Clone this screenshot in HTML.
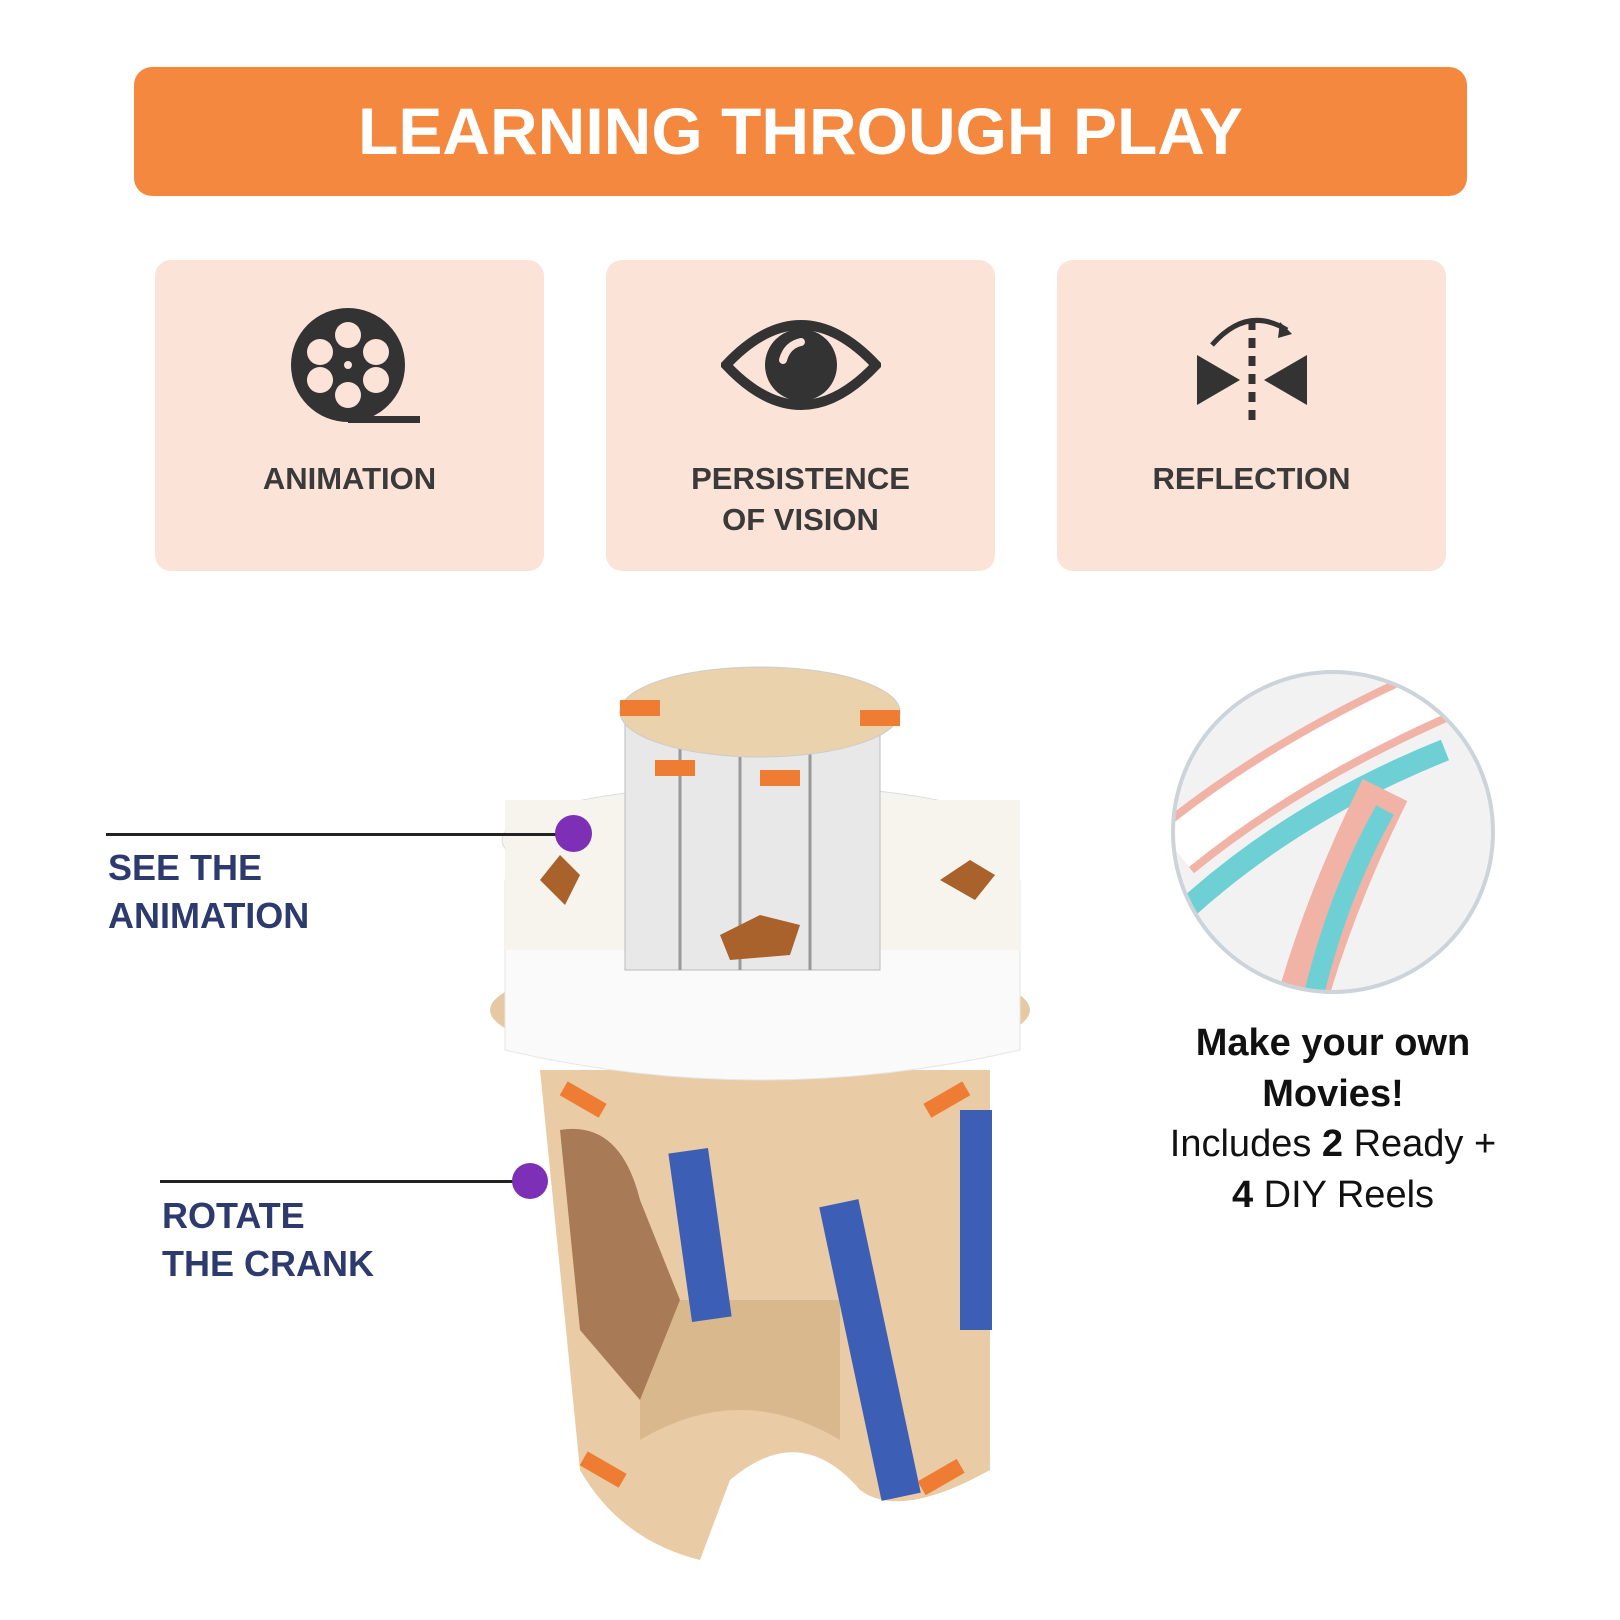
<!DOCTYPE html><html><head><style>
body{margin:0;width:1620px;height:1620px;background:#fff;position:relative;overflow:hidden;font-family:"Liberation Sans",sans-serif}
.a{position:absolute}
.card{position:absolute;top:260px;width:389px;height:311px;background:#fbe3d8;border-radius:16px}
.lbl{position:absolute;left:0;right:0;text-align:center;font-weight:bold;font-size:31px;color:#3a3a3a;line-height:41px}
.nav{color:#2d3a6e;font-weight:bold;font-size:36px;line-height:48px}
</style></head><body>
<div class="a" style="left:134px;top:67px;width:1333px;height:129px;background:#f4883f;border-radius:18px;color:#fff;font-weight:bold;font-size:66px;text-align:center;line-height:129px">LEARNING THROUGH PLAY</div>
<div class="card" style="left:155px">
<svg class="a" style="left:135px;top:45px" width="130" height="130" viewBox="0 0 130 130"><circle cx="58" cy="60" r="57" fill="#333"/><circle cx="58" cy="30" r="13" fill="#fbe3d8"/><circle cx="58" cy="90" r="13" fill="#fbe3d8"/><circle cx="30" cy="47" r="13" fill="#fbe3d8"/><circle cx="86" cy="47" r="13" fill="#fbe3d8"/><circle cx="30" cy="75" r="13" fill="#fbe3d8"/><circle cx="86" cy="75" r="13" fill="#fbe3d8"/><circle cx="58" cy="60" r="4" fill="#fbe3d8"/><rect x="58" y="111" width="72" height="7" fill="#333"/></svg>
<div class="lbl" style="top:198px">ANIMATION</div></div>
<div class="card" style="left:606px">
<svg class="a" style="left:115px;top:55px" width="160" height="100" viewBox="0 0 160 100"><path d="M5 50 Q80 -30 155 50 Q80 130 5 50Z" fill="none" stroke="#333" stroke-width="10"/><circle cx="80" cy="50" r="36" fill="#333"/><path d="M62 45 Q66 30 80 27" stroke="#fbe3d8" stroke-width="8" fill="none" stroke-linecap="round"/></svg>
<div class="lbl" style="top:198px">PERSISTENCE<br>OF VISION</div></div>
<div class="card" style="left:1057px">
<svg class="a" style="left:135px;top:40px" width="120" height="130" viewBox="0 0 120 130"><path d="M20 45 Q55 5 95 30" fill="none" stroke="#333" stroke-width="5"/><path d="M88 22 L100 34 L86 38Z" fill="#333"/><path d="M5 55 L48 80 L5 105Z" fill="#333"/><path d="M115 55 L72 80 L115 105Z" fill="#333"/><line x1="60" y1="20" x2="60" y2="125" stroke="#333" stroke-width="7" stroke-dasharray="10 8"/></svg>
<div class="lbl" style="top:198px">REFLECTION</div></div>

<svg class="a" style="left:0;top:0" width="1620" height="1620">
<path d="M540 1070 L990 1070 L990 1470 Q900 1520 860 1490 Q800 1420 730 1480 L700 1560 Q620 1540 580 1470 Z" fill="#e9cca6"/>
<path d="M640 1440 Q740 1380 840 1440 L840 1300 L640 1300Z" fill="#d9b88e"/>
<rect x="680" y="1150" width="40" height="170" fill="#3c5fb5" transform="rotate(-8 700 1235)"/>
<rect x="960" y="1110" width="32" height="220" fill="#3c5fb5"/>
<rect x="850" y="1200" width="40" height="300" fill="#3c5fb5" transform="rotate(-12 870 1350)"/>
<path d="M560 1130 Q620 1120 640 1200 L680 1300 L640 1400 L580 1330Z" fill="#a87a55"/>
<ellipse cx="760" cy="1010" rx="270" ry="55" fill="#e6c9a3"/>
<path d="M505 880 L1020 880 L1020 1050 Q760 1110 505 1050Z" fill="#fafafa" stroke="#e6e6e6"/>
<ellipse cx="760" cy="840" rx="258" ry="55" fill="#f4f4f0" stroke="#ddd"/>
<rect x="505" y="800" width="515" height="150" fill="#f7f4ee"/>
<rect x="625" y="700" width="255" height="270" fill="#e8e8e8" stroke="#bbb"/>
<line x1="680" y1="720" x2="680" y2="970" stroke="#999" stroke-width="3"/><line x1="740" y1="720" x2="740" y2="970" stroke="#999" stroke-width="3"/><line x1="810" y1="720" x2="810" y2="970" stroke="#999" stroke-width="3"/>
<ellipse cx="760" cy="712" rx="140" ry="45" fill="#ead2ad" stroke="#ccc"/>
<path d="M720 935 l40 -20 l40 10 l-10 30 l-60 5Z" fill="#a9622c"/>
<path d="M540 880 l20 -25 l20 20 l-15 30Z" fill="#a9622c"/>
<path d="M940 880 l30 -20 l25 15 l-20 25Z" fill="#a9622c"/>
<rect x="620" y="700" width="40" height="16" fill="#ee7d33"/><rect x="860" y="710" width="40" height="16" fill="#ee7d33"/><rect x="760" y="770" width="40" height="16" fill="#ee7d33"/><rect x="655" y="760" width="40" height="16" fill="#ee7d33"/>
<rect x="560" y="1090" width="45" height="16" fill="#ee7d33" transform="rotate(30 580 1100)"/><rect x="925" y="1090" width="45" height="16" fill="#ee7d33" transform="rotate(-30 950 1100)"/>
<rect x="580" y="1460" width="45" height="16" fill="#ee7d33" transform="rotate(30 600 1470)"/><rect x="920" y="1470" width="45" height="16" fill="#ee7d33" transform="rotate(-30 940 1480)"/>
<clipPath id="c"><circle cx="1333" cy="832" r="158"/></clipPath>
<circle cx="1333" cy="832" r="160" fill="#f2f2f2" stroke="#ccd4da" stroke-width="4"/>
<g clip-path="url(#c)">
<path d="M1175 850 Q1285 760 1445 690" stroke="#f0b3a6" stroke-width="60" fill="none"/>
<path d="M1175 850 Q1285 760 1445 690" stroke="#fff" stroke-width="44" fill="none"/>
<path d="M1185 910 Q1295 810 1445 750" stroke="#6ed0d4" stroke-width="22" fill="none"/>
<path d="M1305 990 Q1335 890 1385 790" stroke="#f0b3a6" stroke-width="50" fill="none"/>
<path d="M1315 990 Q1340 890 1385 810" stroke="#6ed0d4" stroke-width="20" fill="none"/>
</g>
</svg>
<div class="a" style="left:106px;top:833px;width:455px;height:3px;background:#222"></div>
<div class="a" style="left:555px;top:815px;width:37px;height:37px;border-radius:50%;background:#7d2fb5"></div>
<div class="a nav" style="left:108px;top:844px">SEE THE<br>ANIMATION</div>
<div class="a" style="left:160px;top:1180px;width:360px;height:3px;background:#222"></div>
<div class="a" style="left:512px;top:1163px;width:36px;height:36px;border-radius:50%;background:#7d2fb5"></div>
<div class="a nav" style="left:162px;top:1192px">ROTATE<br>THE CRANK</div>
<div class="a" style="left:1133px;top:1018px;width:400px;text-align:center;font-size:38px;line-height:50.6px;color:#111"><b>Make your own<br>Movies!</b><br>Includes <b>2</b> Ready +<br><b>4</b> DIY Reels</div>
</body></html>
